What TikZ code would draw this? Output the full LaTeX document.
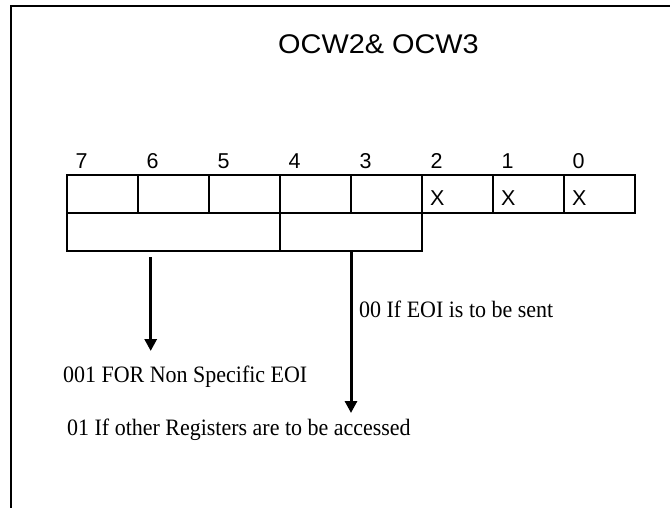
\documentclass[tikz,border=0pt]{standalone}
\usepackage{fontspec}
\setmainfont{Liberation Serif}
\newfontfamily\arialf{Liberation Sans}
\usetikzlibrary{arrows.meta}
\begin{document}
\begin{tikzpicture}[x=1pt,y=-1pt,
  cellbox/.style={draw,line width=1.5pt,minimum width=71pt,minimum height=38pt,inner sep=0pt,outer sep=0pt,anchor=north west},
  wideA/.style={cellbox,minimum width=213pt},
  wideB/.style={cellbox,minimum width=142pt},
  bitlbl/.style={font=\arialf\fontsize{21.5}{24}\selectfont,anchor=base west,inner sep=0pt},
  xlbl/.style={font=\arialf\fontsize{21.5}{24}\selectfont,anchor=base west,inner sep=0pt},
  note/.style={font=\fontsize{23.5}{26}\selectfont,anchor=base west,inner sep=0pt,xscale=0.935},
  arr/.style={line width=3pt,-{Triangle[length=12pt,width=12pt]}}]
\useasboundingbox (0,0) rectangle (670,508);
\fill[white] (0,0) rectangle (670,508);
% frame
\draw[line width=2pt] (11,508) -- (11,5.7) -- (670,5.7);
% title
\node[font=\arialf\fontsize{27}{30}\selectfont,anchor=base,inner sep=0pt,xscale=1.07] (title) at (378.5,54) {OCW2\& OCW3};
% top row cells
\foreach \i/\b in {0/7,1/6,2/5,3/4,4/3,5/2,6/1,7/0}{
  \node[cellbox] (c\b) at ({67+71*\i},175) {};
  \node[bitlbl] (n\b) at ({75.5+71*\i},168.5) {\b};
}
\node[xlbl] (x2) at (430,206) {X};
\node[xlbl] (x1) at (501,206) {X};
\node[xlbl] (x0) at (572,206) {X};
% second row
\node[wideA] (g1) at (67,213) {};
\node[wideB] (g2) at (280,213) {};
% labels
\node[note] (l1) at (63,382) {001 FOR Non Specific EOI};
\node[note] (l2) at (359,317) {00 If EOI is to be sent};
\node[note] (l3) at (67,435) {01 If other Registers are to be accessed};
% arrows
\coordinate (a1s) at (150.7,257);
\coordinate (a1e) at (150.7,351);
\coordinate (a2e) at (351,413);
\draw[arr] (a1s) -- (a1e);
\draw[arr] (g2.south west -| a2e) -- (a2e);
\end{tikzpicture}
\end{document}
